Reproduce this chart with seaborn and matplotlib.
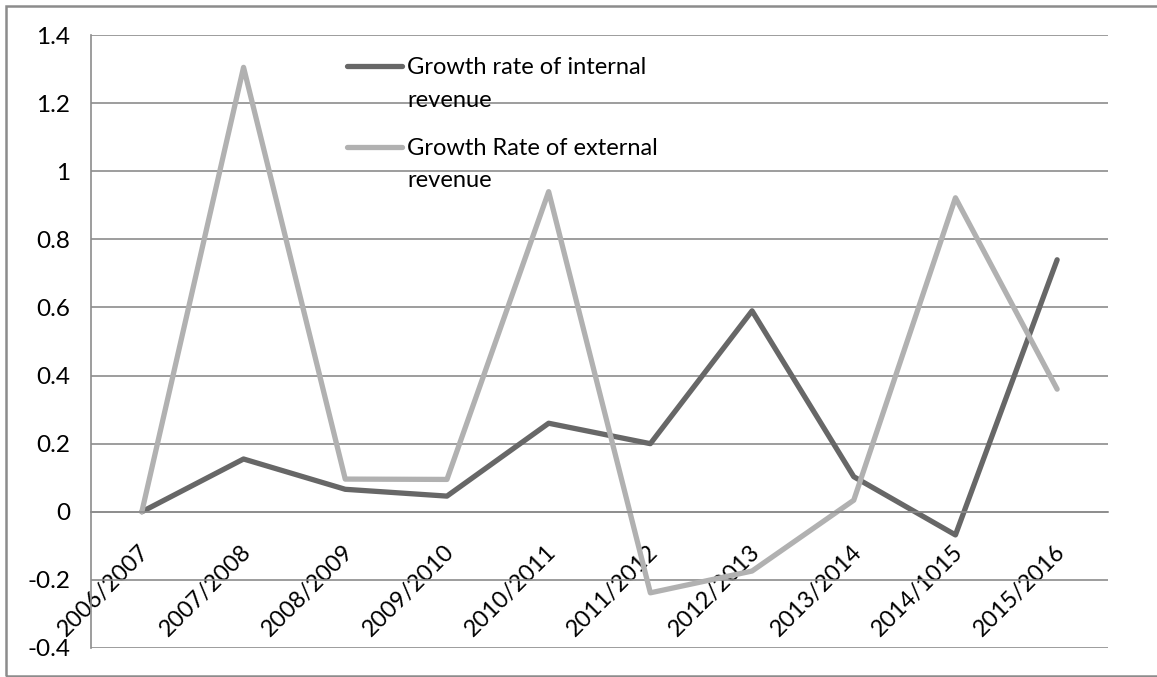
import matplotlib
matplotlib.use("Agg")
import matplotlib.pyplot as plt
from matplotlib.patches import Rectangle
from matplotlib.lines import Line2D
from matplotlib.ticker import FixedLocator, FuncFormatter
from matplotlib.transforms import ScaledTranslation
import numpy as np
import pandas as pd
import seaborn as sns

# Fiscal-year periods
periods = ["2006/2007", "2007/2008", "2008/2009", "2009/2010", "2010/2011",
           "2011/2012", "2012/2013", "2013/2014", "2014/1015", "2015/2016"]

# Growth rates per period
internal_growth = [0.0, 0.155, 0.066, 0.046, 0.26, 0.20, 0.59, 0.103, -0.068, 0.74]
external_growth = [0.0, 1.305, 0.096, 0.095, 0.94, -0.238, -0.174, 0.034, 0.922, 0.36]

series_names = ["Growth rate of internal revenue", "Growth Rate of external revenue"]
series_colors = ["#676767", "#b1b1b1"]
y_ticks = [-0.4, -0.2, 0.0, 0.2, 0.4, 0.6, 0.8, 1.0, 1.2, 1.4]

df = pd.concat([
    pd.DataFrame({"period": periods, "rate": internal_growth, "series": series_names[0]}),
    pd.DataFrame({"period": periods, "rate": external_growth, "series": series_names[1]}),
])

sns.set_theme(style="white")
plt.rcParams["font.family"] = ["Lato", "DejaVu Sans"]

W, H = 1157, 677
fig = plt.figure(figsize=(W / 100, H / 100), dpi=100)
ax = fig.add_axes([91 / W, 1 - 648 / H, (1108 - 91) / W, (648 - 35) / H])

sns.lineplot(data=df, x="period", y="rate", hue="series", palette=series_colors,
             linewidth=3.8, sort=False, ax=ax, legend=False)

ax.set_xlim(-0.5, len(periods) - 0.5)
ax.set_ylim(y_ticks[0], y_ticks[-1])
ax.yaxis.set_major_locator(FixedLocator(y_ticks))
ax.yaxis.set_major_formatter(FuncFormatter(lambda v, _: "0" if abs(v) < 1e-9 else f"{v:g}"))

grid_color = "#8c8c8c"
ax.grid(axis="y", color=grid_color, linewidth=1.2)
ax.set_axisbelow(True)
ax.set_xlabel("")
ax.set_ylabel("")

for s in ["top", "right"]:
    ax.spines[s].set_visible(False)
ax.spines["left"].set_color(grid_color)
ax.spines["left"].set_linewidth(1.2)
ax.spines["bottom"].set_position(("data", 0))
ax.spines["bottom"].set_color(grid_color)
ax.spines["bottom"].set_linewidth(1.2)

# Category boundary ticks on the x axis, labels at category centres
ax.xaxis.set_minor_locator(FixedLocator(np.arange(-0.5, len(periods), 1.0)))
ax.tick_params(axis="x", which="minor", direction="out", length=5.8, width=1.2, color=grid_color)
ax.tick_params(axis="x", which="major", length=0, pad=21, labelsize=16.8, labelcolor="black")
ax.tick_params(axis="y", direction="out", length=5.8, width=1.2, color=grid_color, pad=9,
               labelsize=17.5, labelcolor="black")
shift = ScaledTranslation(-3 / 100, 0, fig.dpi_scale_trans)
for lbl in ax.get_xticklabels():
    lbl.set_rotation(45)
    lbl.set_ha("right")
    lbl.set_va("top")
    lbl.set_rotation_mode("anchor")
    lbl.set_transform(lbl.get_transform() + shift)

# Legend: key line beside a two-line label for each series
legend_rows = [
    (66, ("Growth rate of internal", "revenue"), (74.3, 106.7)),
    (147, ("Growth Rate of external", "revenue"), (155, 186.7)),
]
for (key_y, lines, baselines), color in zip(legend_rows, series_colors):
    fig.add_artist(Line2D([347 / W, 402 / W], [1 - key_y / H, 1 - key_y / H],
                          color=color, linewidth=3.8, solid_capstyle="round",
                          transform=fig.transFigure))
    for text, base in zip(lines, baselines):
        fig.text(407 / W, 1 - base / H, text, fontsize=17, color="black",
                 ha="left", va="baseline")

# Outer chart frame
fig.patches.append(Rectangle((6 / W, 1 / H), 1.2, 1 - 7 / H, transform=fig.transFigure,
                             fill=False, edgecolor=grid_color, linewidth=1.8))

fig.savefig("out.png", dpi=100, facecolor="white")
